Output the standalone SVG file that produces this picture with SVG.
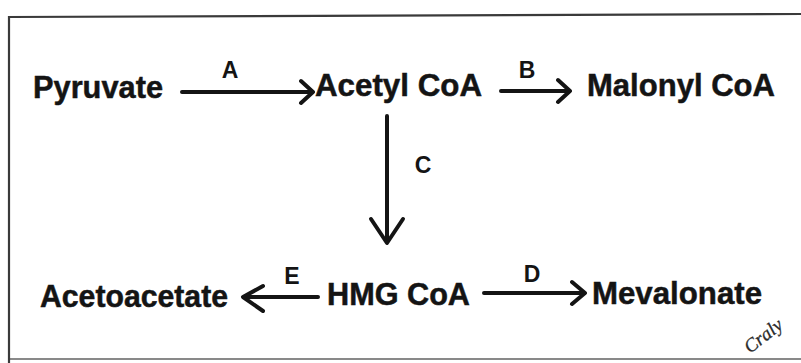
<svg xmlns="http://www.w3.org/2000/svg" width="801" height="363" viewBox="0 0 801 363">
  <style>
    .node { font-family: "Liberation Sans", Arial, sans-serif; font-weight: bold; font-size: 31px; fill: #141414; stroke: #141414; stroke-width: 0.5; }
    .lbl { font-family: "Liberation Sans", Arial, sans-serif; font-weight: bold; font-size: 23px; fill: #141414; text-anchor: middle; }
    .edge { fill: none; stroke: #141414; stroke-width: 4; stroke-linecap: round; stroke-linejoin: round; }
    .frame { fill: none; stroke: #3a3a3a; stroke-width: 2.2; }
    .sig { font-family: "Liberation Serif", serif; font-style: italic; font-size: 19px; fill: #2a2a2a; stroke: #2a2a2a; stroke-width: 0.3; }
  </style>
  <rect width="801" height="363" fill="#ffffff"/>

  <!-- page frame -->
  <g id="frame">
    <path class="frame" d="M9,363 L9,17 L801,14"/>
    <path class="frame" d="M9,359 L801,359" stroke-opacity="0.6"/>
  </g>

  <!-- reaction arrows -->
  <g id="connectors">
    <!-- A: Pyruvate -> Acetyl CoA -->
    <path class="edge" d="M182,92 L312,92 M301,81 L313,92 L301,103"/>
    <!-- B: Acetyl CoA -> Malonyl CoA -->
    <path class="edge" d="M501,91 L569,91 M558,80 L570,91 L558,102"/>
    <!-- C: Acetyl CoA -> HMG CoA -->
    <path class="edge" d="M387,116 L387,242 M371,219 L387,243 L403,219"/>
    <!-- E: HMG CoA -> Acetoacetate -->
    <path class="edge" d="M318,297 L244,297 M263,286 L243,297 L263,311"/>
    <!-- D: HMG CoA -> Mevalonate -->
    <path class="edge" d="M484,293 L584,293 M572,282 L585,293 L572,304"/>
  </g>

  <g id="label-A"><text class="lbl" x="230" y="78">A</text></g>
  <g id="label-B"><text class="lbl" x="527" y="78">B</text></g>
  <g id="label-C"><text class="lbl" x="423" y="173">C</text></g>
  <g id="label-D"><text class="lbl" x="532" y="282">D</text></g>
  <g id="label-E"><text class="lbl" x="292" y="284">E</text></g>

  <!-- metabolites -->
  <g id="pyruvate"><text class="node" x="33" y="98" textLength="130" lengthAdjust="spacingAndGlyphs">Pyruvate</text></g>
  <g id="acetyl-coa"><text class="node" x="315" y="96" textLength="167" lengthAdjust="spacingAndGlyphs">Acetyl CoA</text></g>
  <g id="malonyl-coa"><text class="node" x="587" y="96" textLength="188" lengthAdjust="spacingAndGlyphs">Malonyl CoA</text></g>
  <g id="hmg-coa"><text class="node" x="327" y="305" textLength="143" lengthAdjust="spacingAndGlyphs">HMG CoA</text></g>
  <g id="acetoacetate"><text class="node" x="40" y="307" textLength="188" lengthAdjust="spacingAndGlyphs">Acetoacetate</text></g>
  <g id="mevalonate"><text class="node" x="592" y="304" textLength="170" lengthAdjust="spacingAndGlyphs">Mevalonate</text></g>

  <!-- handwritten initials in the corner -->
  <text class="sig" transform="translate(750,354) rotate(-38)">Craly</text>
</svg>
